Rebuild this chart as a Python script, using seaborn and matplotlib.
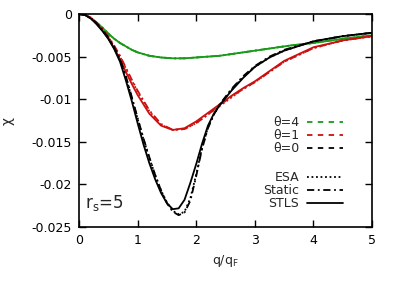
import numpy as np
import pandas as pd
import matplotlib
matplotlib.use('Agg')
import matplotlib.pyplot as plt
import seaborn as sns
from matplotlib.lines import Line2D

# ── Data ──────────────────────────────────────────────────────────────────────
q_black = [0, 0.1, 0.2, 0.3, 0.4, 0.5, 0.6, 0.7, 0.8, 0.9, 1.0, 1.1, 1.2, 1.3, 1.4,
           1.5, 1.6, 1.7, 1.8, 1.9, 2.0, 2.1, 2.2, 2.3, 2.4, 2.6, 2.8, 3.0, 3.25, 3.5,
           4.0, 4.5, 5.0]
chi0_stls = [0, -0.0001, -0.0005, -0.0012, -0.0020, -0.0029, -0.0041, -0.0056, -0.0078,
             -0.0102, -0.0128, -0.0153, -0.0175, -0.0194, -0.0210, -0.0222, -0.0229,
             -0.0228, -0.0218, -0.0198, -0.0176, -0.0152, -0.0131, -0.0117, -0.0107,
             -0.0090, -0.0075, -0.0062, -0.0051, -0.0043, -0.0032, -0.0026, -0.0022]
chi0_static = [0, -0.0001, -0.0005, -0.0011, -0.0019, -0.0028, -0.0039, -0.0053, -0.0073,
               -0.0097, -0.0122, -0.0146, -0.0168, -0.0189, -0.0207, -0.0222, -0.0232,
               -0.0236, -0.0233, -0.0219, -0.0190, -0.0158, -0.0134, -0.0118, -0.0106,
               -0.0088, -0.0073, -0.0061, -0.0050, -0.0042, -0.0032, -0.0026, -0.0022]
chi0_esa = [0, -0.0001, -0.0005, -0.0011, -0.0019, -0.0028, -0.0040, -0.0054, -0.0074,
            -0.0098, -0.0123, -0.0147, -0.0169, -0.0189, -0.0207, -0.0221, -0.0231,
            -0.0235, -0.0232, -0.0216, -0.0188, -0.0157, -0.0133, -0.0118, -0.0107,
            -0.0089, -0.0074, -0.0062, -0.0051, -0.0043, -0.0032, -0.0026, -0.0022]

q_red = [0, 0.1, 0.2, 0.3, 0.4, 0.5, 0.6, 0.7, 0.8, 0.9, 1.0, 1.2, 1.4, 1.6, 1.8,
         2.0, 2.2, 2.4, 2.6, 2.8, 3.0, 3.5, 4.0, 4.5, 5.0]
chi1_stls = [0, -0.0001, -0.0005, -0.0011, -0.0019, -0.0029, -0.0040, -0.0053, -0.0068,
             -0.0082, -0.0095, -0.0117, -0.0131, -0.0136, -0.0134, -0.0126, -0.0116,
             -0.0106, -0.0096, -0.0087, -0.0079, -0.0055, -0.0039, -0.0031, -0.0026]
chi1_static = [0, -0.0001, -0.0004, -0.0010, -0.0017, -0.0026, -0.0037, -0.0049, -0.0063,
               -0.0077, -0.0090, -0.0113, -0.0129, -0.0136, -0.0135, -0.0128, -0.0118,
               -0.0107, -0.0097, -0.0088, -0.0080, -0.0056, -0.0040, -0.0031, -0.0026]
chi1_esa = [0, -0.0001, -0.0004, -0.0010, -0.0018, -0.0027, -0.0038, -0.0050, -0.0064,
            -0.0078, -0.0091, -0.0114, -0.0130, -0.0136, -0.0135, -0.0128, -0.0118,
            -0.0108, -0.0098, -0.0088, -0.0080, -0.0056, -0.0040, -0.0031, -0.0026]

q_green = [0, 0.1, 0.2, 0.3, 0.4, 0.5, 0.6, 0.7, 0.8, 0.9, 1.0, 1.2, 1.4, 1.6, 1.8,
           2.0, 2.4, 2.8, 3.2, 3.6, 4.0, 4.5, 5.0]
chi4_stls = [0, -0.0001, -0.0005, -0.0010, -0.0016, -0.0023, -0.0029, -0.0034, -0.0038,
             -0.0042, -0.0045, -0.0049, -0.0051, -0.0052, -0.0052, -0.0051, -0.0049,
             -0.0045, -0.0041, -0.0037, -0.0034, -0.0029, -0.0025]
chi4_static = [0, -0.0001, -0.0005, -0.0010, -0.0016, -0.0023, -0.0029, -0.0034, -0.0038,
               -0.0042, -0.0045, -0.0049, -0.0051, -0.0052, -0.0052, -0.0051, -0.0049,
               -0.0045, -0.0041, -0.0037, -0.0034, -0.0029, -0.0025]
chi4_esa = [0, -0.0001, -0.0005, -0.0010, -0.0016, -0.0023, -0.0029, -0.0034, -0.0038,
            -0.0042, -0.0045, -0.0049, -0.0051, -0.0052, -0.0052, -0.0051, -0.0049,
            -0.0045, -0.0041, -0.0037, -0.0034, -0.0029, -0.0025]

y_ticks = [0, -0.005, -0.01, -0.015, -0.02, -0.025]
y_ticklabels = ['0', '-0.005', '-0.01', '-0.015', '-0.02', '-0.025']

# ── Style ─────────────────────────────────────────────────────────────────────
GREEN = '#1a9a1a'
RED = '#cc1010'
BLACK = '#000000'
LS = {'ESA': (0, (1, 1.5)), 'Static': (0, (4, 2, 1, 2)), 'STLS': '-'}

sns.set_style('ticks')
plt.rcParams['font.family'] = ['DejaVu Sans']
plt.rcParams['axes.unicode_minus'] = False

fig = plt.figure(figsize=(3.95, 2.86), dpi=100)
ax = fig.add_axes([0.2, 0.206, 0.742, 0.745])

curves = [
    (q_green, chi4_esa, GREEN, 'ESA'), (q_green, chi4_static, GREEN, 'Static'),
    (q_green, chi4_stls, GREEN, 'STLS'),
    (q_red, chi1_esa, RED, 'ESA'), (q_red, chi1_static, RED, 'Static'),
    (q_red, chi1_stls, RED, 'STLS'),
    (q_black, chi0_esa, BLACK, 'ESA'), (q_black, chi0_static, BLACK, 'Static'),
    (q_black, chi0_stls, BLACK, 'STLS'),
]
for qq, cc, col, kind in curves:
    sns.lineplot(x=qq, y=cc, ax=ax, color=col, linestyle=LS[kind], lw=1.3,
                 sort=False, estimator=None)

ax.set_xlim(0, 5)
ax.set_ylim(-0.025, 0)
ax.set_xticks([0, 1, 2, 3, 4, 5])
ax.set_xticklabels(['0', '1', '2', '3', '4', '5'])
ax.set_yticks(y_ticks)
ax.set_yticklabels(y_ticklabels)
ax.tick_params(direction='in', length=5, width=1, top=True, right=True,
               labelsize=9, colors='black', pad=5)
for sp in ax.spines.values():
    sp.set_visible(True)
    sp.set_linewidth(1.2)
    sp.set_color('black')

ax.set_xlabel('q/q$_\\mathregular{F}$', fontsize=9, labelpad=4)
ax.set_ylabel('χ', fontsize=10, labelpad=12)
ax.text(0.1, -0.0228, 'r$_\\mathregular{s}$=5', fontsize=12)

# ── Legends ───────────────────────────────────────────────────────────────────
leg_kw = dict(loc='upper right', frameon=False, markerfirst=False, fontsize=9,
              handlelength=2.9, handletextpad=0.6, labelspacing=0.0,
              borderaxespad=0.0, borderpad=0.0)
theta_handles = [Line2D([], [], color=GREEN, lw=1.3, linestyle=(0, (3, 3))),
                 Line2D([], [], color=RED, lw=1.3, linestyle=(0, (3, 3))),
                 Line2D([], [], color=BLACK, lw=1.3, linestyle=(0, (3, 3)))]
leg1 = ax.legend(theta_handles, ['θ=4', 'θ=1', 'θ=0'],
                 bbox_to_anchor=(0.901, 0.521), **leg_kw)
ax.add_artist(leg1)
kind_handles = [Line2D([], [], color=BLACK, lw=1.3, linestyle=LS[k])
                for k in ['ESA', 'Static', 'STLS']]
ax.legend(kind_handles, ['ESA', 'Static', 'STLS'],
          bbox_to_anchor=(0.901, 0.263), **leg_kw)

fig.savefig('out.png', dpi=100)
